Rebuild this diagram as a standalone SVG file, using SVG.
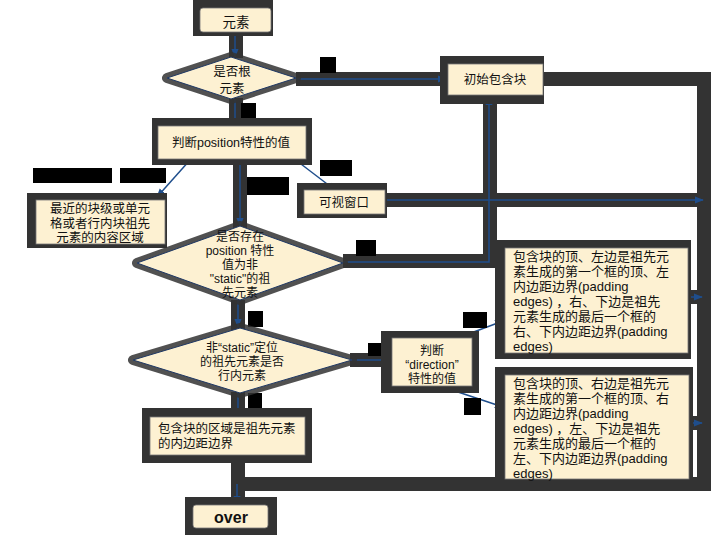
<svg xmlns="http://www.w3.org/2000/svg" width="720" height="540" viewBox="0 0 720 540">
<defs>
<marker id="arr" viewBox="0 0 10 10" refX="9" refY="5" markerWidth="6" markerHeight="6" orient="auto">
<path d="M0,1 L10,5 L0,9 z" fill="#1f4e8c"/>
</marker>
<style>
.band{fill:none;stroke:#333;stroke-width:14;stroke-linejoin:miter}
.ln{fill:none;stroke:#1f4e8c;stroke-width:1.5;marker-end:url(#arr)}
.halo{fill:#333}
.box{fill:#fdf1d2;stroke:#777;stroke-width:0.8}
.dh{fill:#333;stroke:#333;stroke-width:10;stroke-linejoin:round;opacity:0.85}
.dia{fill:#fdf1d2;stroke:#1f3864;stroke-width:1}
.lab{fill:#000}
text{font-family:"Liberation Sans","Noto Sans CJK SC",sans-serif;font-size:12.5px;fill:#111}
.c{text-anchor:middle}
.big{font-size:13.5px}
.sm{font-size:12px}
.bx{font-size:13px}
</style>
</defs>
<rect width="720" height="540" fill="#fff"/>
<g id="connectors">
<path class="band" d="M236,30 V58"/>
<path class="band" d="M236,98 V126"/>
<path class="band" d="M296,79 H444"/>
<path class="band" d="M540,79 H704 V484 H238 V500"/>
<path class="band" d="M240,160 V228"/>
<path class="band" d="M384,200 H704"/>
<path class="band" d="M343,261 H490 V100"/>
<path class="band" d="M238,300 V330"/>
<path class="band" d="M350,360 H392"/>
<path class="band" d="M238,392 V418"/>
<path class="band" d="M238,455 V484"/>
<path class="band" d="M688,297 H704"/>
<path class="band" d="M690,423 H704"/>
<path class="ln" d="M235,32 V57"/>
<path class="ln" d="M235,99 V126"/>
<path class="ln" d="M296,79 H446"/>
<path class="ln" d="M190,160 L157,197"/>
<path class="ln" d="M240,160 V226"/>
<path class="ln" d="M297,161 L335,190"/>
<path class="ln" d="M385,200 H703"/>
<path class="ln" d="M343,262 H489 V97"/>
<path class="ln" d="M238,300 V327"/>
<path class="ln" d="M352,360 H391"/>
<path class="ln" d="M238,393 V416"/>
<path class="ln" d="M455,339 L503,321"/>
<path class="ln" d="M455,391 L503,407"/>
<path class="ln" d="M688,297 H702"/>
<path class="ln" d="M690,423 H702"/>
<path class="ln" d="M237,484 V504"/>
<rect class="lab" x="320" y="57" width="16" height="16"/>
<rect class="lab" x="241" y="103" width="15" height="17"/>
<rect class="lab" x="33" y="168" width="79" height="15"/>
<rect class="lab" x="120" y="168" width="46" height="15"/>
<rect class="lab" x="247" y="177" width="42" height="18"/>
<rect class="lab" x="320" y="160" width="32" height="16"/>
<rect class="lab" x="356" y="240" width="20" height="16"/>
<rect class="lab" x="248" y="311" width="15" height="16"/>
<rect class="lab" x="368" y="343" width="18" height="13"/>
<rect class="lab" x="248" y="393" width="14" height="15"/>
<rect class="lab" x="463" y="312" width="24" height="16"/>
<rect class="lab" x="464" y="398" width="17" height="17"/>
</g>
<g id="n-yuansu">
<rect class="halo" x="193" y="0" width="80" height="36"/>
<rect class="box" x="200" y="8" width="71" height="24" rx="3"/>
<text class="c big" x="236" y="27">元素</text>
</g>
<g id="n-isroot">
<polygon class="dh" points="231,57 296,78 231,99 167,78"/>
<polygon class="dia" points="231,57 296,78 231,99 167,78"/>
<text class="c" x="232" y="76">是否根</text>
<text class="c" x="232" y="93">元素</text>
</g>
<g id="n-initial">
<rect class="halo" x="440" y="56" width="104" height="48"/>
<rect class="box" x="448" y="64" width="95" height="31"/>
<text class="c" x="495" y="84">初始包含块</text>
</g>
<g id="n-position">
<rect class="halo" x="152" y="118" width="160" height="47"/>
<rect class="box" x="158" y="126" width="148" height="33"/>
<text class="c" x="231" y="147">判断position特性的值</text>
</g>
<g id="n-nearest">
<rect class="halo" x="27" y="193" width="140" height="55"/>
<rect class="box" x="36" y="200" width="129" height="44"/>
<text class="c" x="100" y="213">最近的块级或单元</text>
<text class="c" x="100" y="227.5">格或者行内块祖先</text>
<text class="c" x="100" y="242">元素的内容区域</text>
</g>
<g id="n-viewport">
<rect class="halo" x="297" y="183" width="90" height="35"/>
<rect class="box" x="304" y="190" width="81" height="24"/>
<text class="c" x="344" y="207">可视窗口</text>
</g>
<g id="n-exists">
<polygon class="dh" points="240,226 343,263 240,300 137,263"/>
<polygon class="dia" points="240,226 343,263 240,300 137,263"/>
<text class="c sm" x="240" y="241">是否存在</text>
<text class="c sm" x="240" y="255">position 特性</text>
<text class="c sm" x="240" y="269">值为非</text>
<text class="c sm" x="240" y="283">"static"的祖</text>
<text class="c sm" x="240" y="297">先元素</text>
</g>
<g id="n-inline">
<polygon class="dh" points="240,328 352,360 240,393 133,360"/>
<polygon class="dia" points="240,328 352,360 240,393 133,360"/>
<text class="c sm" x="242" y="352">非“static”定位</text>
<text class="c sm" x="242" y="366">的祖先元素是否</text>
<text class="c sm" x="242" y="380">行内元素</text>
</g>
<g id="n-direction">
<rect class="halo" x="381" y="331" width="98" height="62"/>
<rect class="box" x="392" y="338" width="80" height="48"/>
<text class="c sm" x="432" y="355">判断</text>
<text class="c sm" x="432" y="369">“direction”</text>
<text class="c sm" x="432" y="383">特性的值</text>
</g>
<g id="n-ltr">
<rect class="halo" x="495" y="240" width="196" height="119"/>
<rect class="box" x="505" y="248" width="183" height="105"/>
<text class="bx" x="513" y="261">包含块的顶、左边是祖先元</text>
<text class="bx" x="513" y="276">素生成的第一个框的顶、左</text>
<text class="bx" x="513" y="291">内边距边界(padding</text>
<text class="bx" x="513" y="306">edges) ，右、下边是祖先</text>
<text class="bx" x="513" y="321">元素生成的最后一个框的</text>
<text class="bx" x="513" y="336">右、下内边距边界(padding</text>
<text class="bx" x="513" y="351">edges)</text>
</g>
<g id="n-rtl">
<rect class="halo" x="495" y="367" width="198" height="120"/>
<rect class="box" x="505" y="375" width="184" height="104"/>
<text class="bx" x="513" y="388">包含块的顶、右边是祖先元</text>
<text class="bx" x="513" y="403">素生成的第一个框的顶、右</text>
<text class="bx" x="513" y="418">内边距边界(padding</text>
<text class="bx" x="513" y="433">edges) ，左、下边是祖先</text>
<text class="bx" x="513" y="448">元素生成的最后一个框的</text>
<text class="bx" x="513" y="463">左、下内边距边界(padding</text>
<text class="bx" x="513" y="478">edges)</text>
</g>
<g id="n-padding">
<rect class="halo" x="142" y="408" width="170" height="55"/>
<rect class="box" x="150" y="417" width="155" height="38"/>
<text x="158" y="433">包含块的区域是祖先元素</text>
<text x="158" y="448">的内边距边界</text>
</g>
<g id="n-over">
<rect class="halo" x="185" y="497" width="92" height="38"/>
<rect class="box" x="193" y="505" width="75" height="23" rx="3"/>
<text class="c" x="231" y="523" style="font-family:'Liberation Sans',sans-serif;font-weight:bold;font-size:16px">over</text>
</g>
</svg>
